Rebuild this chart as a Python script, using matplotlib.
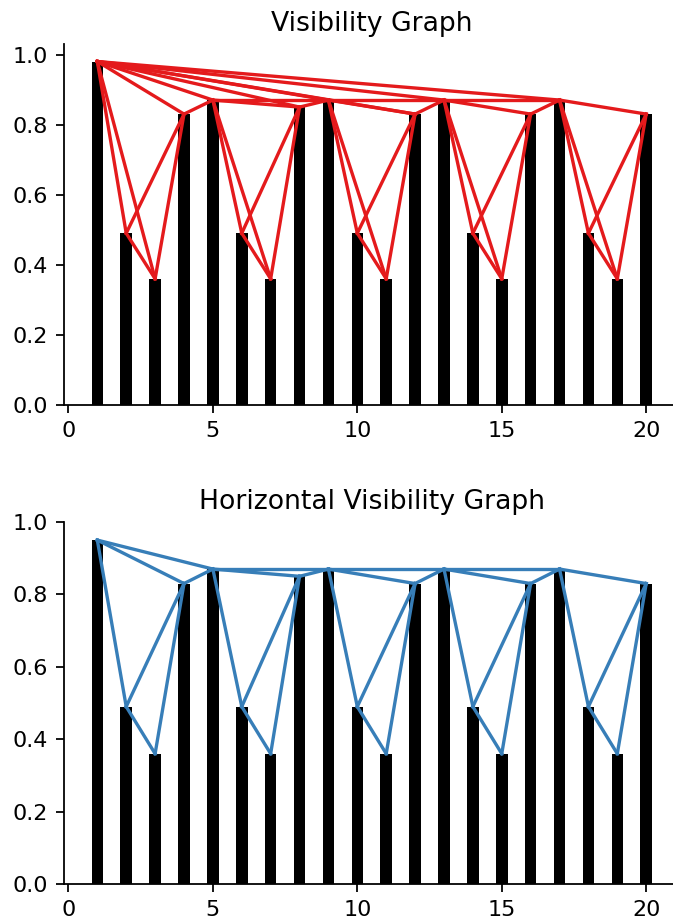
import matplotlib
matplotlib.use("Agg")
from matplotlib import pyplot as plt

x_values = list(range(1, 21))
vg_heights = [0.98, 0.49, 0.36, 0.83, 0.87, 0.49, 0.36, 0.85, 0.87, 0.49,
              0.36, 0.83, 0.87, 0.49, 0.36, 0.83, 0.87, 0.49, 0.36, 0.83]
hvg_heights = [0.95, 0.49, 0.36, 0.83, 0.87, 0.49, 0.36, 0.85, 0.87, 0.49,
               0.36, 0.83, 0.87, 0.49, 0.36, 0.83, 0.87, 0.49, 0.36, 0.83]
titles = ["Visibility Graph", "Horizontal Visibility Graph"]
edge_colors = ["#e41a1c", "#377eb8"]


def natural_edges(xs, ys):
    edges = []
    n = len(xs)
    for a in range(n):
        for b in range(a + 1, n):
            visible = True
            for c in range(a + 1, b):
                line_y = ys[b] + (ys[a] - ys[b]) * (xs[b] - xs[c]) / (xs[b] - xs[a])
                if ys[c] >= line_y:
                    visible = False
                    break
            if visible:
                edges.append((a, b))
    return edges


def horizontal_edges(xs, ys):
    edges = []
    n = len(xs)
    for a in range(n):
        for b in range(a + 1, n):
            if all(ys[c] < min(ys[a], ys[b]) for c in range(a + 1, b)):
                edges.append((a, b))
    return edges


def draw(ax, xs, ys, edges, color, title):
    ax.bar(xs, ys, width=0.4, color="black")
    for a, b in edges:
        ax.plot([xs[a], xs[b]], [ys[a], ys[b]], color=color, lw=1.5)
    ax.set_title(title)
    ax.spines["top"].set_visible(False)
    ax.spines["right"].set_visible(False)
    ax.set_xticks([0, 5, 10, 15, 20])
    ax.set_yticks([0.0, 0.2, 0.4, 0.6, 0.8, 1.0])


fig = plt.figure(figsize=(673 / 160, 920 / 160), dpi=160)
ax1 = fig.add_axes([0.0944, 0.5598, 0.916, 0.392])
ax2 = fig.add_axes([0.0944, 0.0391, 0.916, 0.3935])

draw(ax1, x_values, vg_heights, natural_edges(x_values, vg_heights), edge_colors[0], titles[0])
draw(ax2, x_values, hvg_heights, horizontal_edges(x_values, hvg_heights), edge_colors[1], titles[1])
ax2.set_ylim(0, 1.0)

fig.savefig("out.png", dpi=160)
